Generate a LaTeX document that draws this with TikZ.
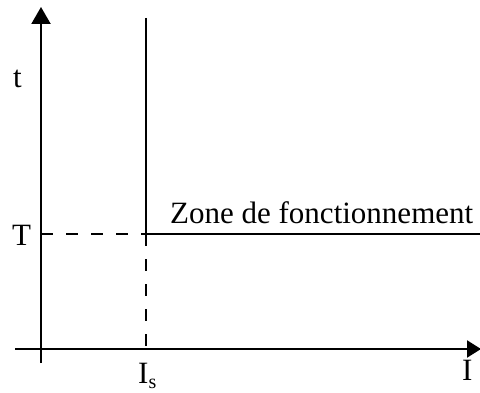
\documentclass[tikz,border=0pt]{standalone}
\usepackage{fontspec}
\setmainfont{Liberation Serif}
\usetikzlibrary{arrows.meta}
\begin{document}
\begin{tikzpicture}[x=1pt,y=1pt,
  axis/.style={line width=2.2pt,-{Triangle[length=17pt,width=19pt]}},
  solidline/.style={line width=2.2pt},
  dashline/.style={line width=2.2pt,dash pattern=on 12pt off 13pt},
  lbl/.style={inner sep=0pt,font=\fontsize{31}{37}\selectfont}]
\useasboundingbox (0,0) rectangle (480,392);
% coordinates
\coordinate (vb) at (41,29);
\coordinate (vt) at (41,385);
\coordinate (hl) at (15,43);
\coordinate (hr) at (481,43);
\coordinate (st) at (146,374);
\coordinate (sm) at (146,158);
\coordinate (sb) at (146,43);
\coordinate (tl) at (41,158);
\coordinate (tr) at (480,158);
% axes
\draw[axis] (vb) -- (vt);
\draw[axis,-{Triangle[length=14pt,width=17pt]}] (hl) -- (hr);
% lines
\draw[solidline] (st) -- (sm);
\draw[solidline] (sm) -- (tr);
\draw[dashline] (tl) -- (sm);
\draw[dashline] (sm) -- (sb);
% labels
\node[lbl,anchor=base west] (zone) at (170,169) {Zone de fonctionnement};
\node[lbl,anchor=base west] (tlab) at (13,305) {t};
\node[lbl,anchor=base west] (Tlab) at (12,147) {T};
\node[lbl,anchor=base west] (Islab) at (138,9) {I\raisebox{-5pt}{\fontsize{20}{20}\selectfont s}};
\node[lbl,anchor=base west] (Ilab) at (462,12) {I};
\end{tikzpicture}
\end{document}
